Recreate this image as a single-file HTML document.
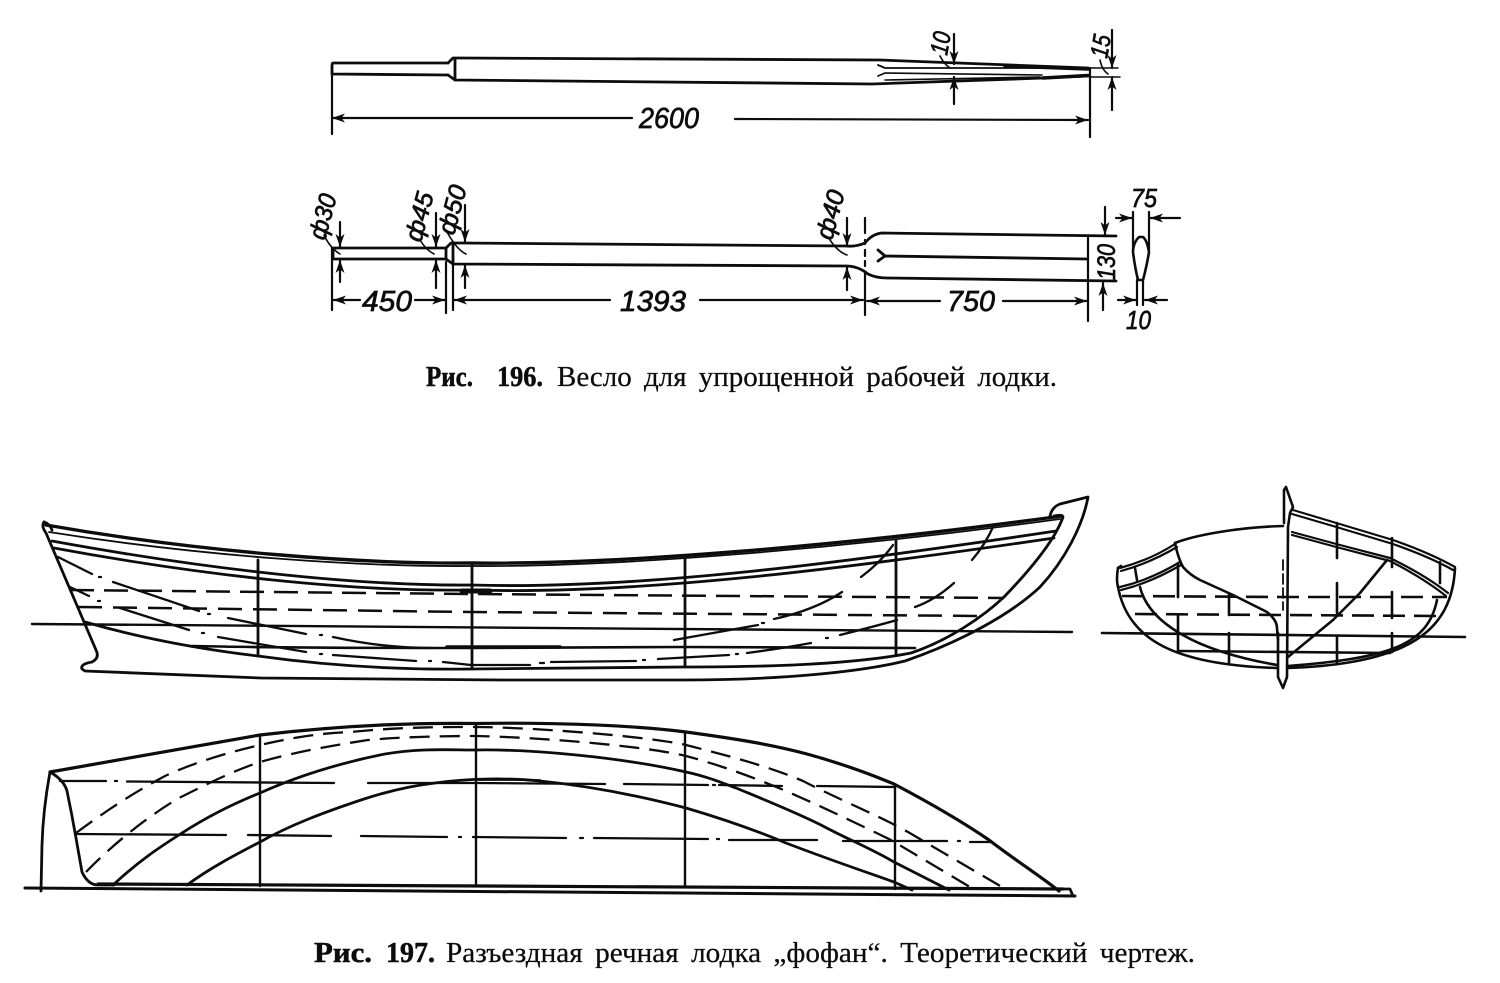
<!DOCTYPE html>
<html lang="ru"><head><meta charset="utf-8"><title>Рис. 196–197</title>
<style>
html,body{margin:0;padding:0;background:#fff}
svg{display:block}
.t{font:italic 29px "Liberation Sans",sans-serif;fill:#0c0c0c;stroke:#0c0c0c;stroke-width:.7}
.c{font:29px "Liberation Serif","Noto Serif CJK SC",serif;fill:#0c0c0c;stroke:#0c0c0c;stroke-width:.25}
.b{font-weight:bold;stroke-width:.5}
</style></head><body>
<svg width="1500" height="983" viewBox="0 0 1500 983" xmlns="http://www.w3.org/2000/svg">
<defs>
<marker id="a" markerUnits="userSpaceOnUse" markerWidth="15" markerHeight="12" refX="13" refY="6" orient="auto"><path d="M0 1.5L13 6L0 10.500L3.500 6Z" fill="#0c0c0c"/></marker>
</defs>
<rect width="1500" height="983" fill="#fff"/>

<!-- OAR 1 -->
<g fill="none" stroke="#0c0c0c" stroke-width="2.8" stroke-linecap="round" stroke-linejoin="round">
<path d="M448 63H333Q332 63 332 66V74L448 75"/>
<path d="M448 63L453 58H460L880 60L1088 68"/>
<path d="M448 75L455 80L872 84L1043 78L1088 76"/>
<path d="M455 60V80"/>
<path d="M878 65L885 68H1090" stroke-width="1.8"/>
<path d="M878 76L885 73L1042 75" stroke-width="1.6"/>
<path d="M885 80L1040 77" stroke-width="1.6"/>
<path d="M1005 66L1088 69" stroke-width="3.5"/>
<path d="M1043 78L1088 75.500" stroke-width="3.500"/>
<g stroke-width="2.2">
<path d="M332 66V134"/><path d="M1090 68V137"/>
<path d="M632 118H332" marker-end="url(#a)"/>
<path d="M735 119L1088 120" marker-end="url(#a)"/>
<path d="M954 34V64" marker-end="url(#a)"/><path d="M954 104V77" marker-end="url(#a)"/>
<path d="M1112 30V68" marker-end="url(#a)"/><path d="M1112 110V77" marker-end="url(#a)"/>
<path d="M1090 68H1118M1090 77H1120" stroke-width="1.5"/>
<path d="M940 56Q944 64 950 68M1100 60Q1102 70 1108 74" stroke-width="1.6"/>
</g>
</g>
<text class="t" transform="translate(639,128)" textLength="60" lengthAdjust="spacingAndGlyphs">2600</text>
<text class="t" transform="translate(947,56) rotate(-80)" style="font-size:25px" textLength="23" lengthAdjust="spacingAndGlyphs">10</text>
<text class="t" transform="translate(1107,59) rotate(-80)" style="font-size:25px" textLength="23" lengthAdjust="spacingAndGlyphs">15</text>

<!-- OAR 2 -->
<g fill="none" stroke="#0c0c0c" stroke-width="2.8" stroke-linecap="round" stroke-linejoin="round">
<path d="M446 248H333V259H446"/>
<path d="M446 248L451 243H460L846 246Q856 247 865 243Q872 234 882 233L1116 236"/>
<path d="M446 259L453 264L846 266Q858 266 868 274Q876 278 887 278L1116 281"/>
<path d="M453 245V264M446 248V259"/>
<path d="M878 250L885 256L878 261M885 256L1087 259"/>
<g stroke-width="2.2">
<path d="M332 248V310M446 262V313M453 264V310"/>
<path d="M865 218V233M865 240V244M865 250V256M865 261V266M865 272V315"/>
<path d="M1088 237V321"/>
<path d="M360 300H333" marker-end="url(#a)"/><path d="M415 300H445" marker-end="url(#a)"/>
<path d="M610 300H454" marker-end="url(#a)"/><path d="M700 300L863 300" marker-end="url(#a)"/>
<path d="M940 301H867" marker-end="url(#a)"/><path d="M1003 301H1087" marker-end="url(#a)"/>
<path d="M340 222V247" marker-end="url(#a)"/><path d="M340 282V260" marker-end="url(#a)"/>
<path d="M436 213V247" marker-end="url(#a)"/><path d="M436 288V260" marker-end="url(#a)"/>
<path d="M465 205V242" marker-end="url(#a)"/><path d="M465 288V265" marker-end="url(#a)"/>
<path d="M847 218V246" marker-end="url(#a)"/><path d="M847 290V267" marker-end="url(#a)"/>
<path d="M1105 207V235" marker-end="url(#a)"/><path d="M1103 310V283" marker-end="url(#a)"/>
<path d="M1116 218H1132" marker-end="url(#a)"/><path d="M1180 218H1150" marker-end="url(#a)"/>
<path d="M1118 300H1136" marker-end="url(#a)"/><path d="M1167 300H1145" marker-end="url(#a)"/>
<path d="M1133 212V250M1149 212V250M1137 280V305M1143 280V305"/>
<path d="M1139 237Q1133 243 1133 252Q1135 268 1138 280H1143Q1147 265 1149 252Q1147 240 1143 237Z" stroke-width="2.6"/>
<path d="M324 235Q330 248 340 254M420 240Q426 250 434 254M447 232Q457 250 466 254M830 240Q838 252 847 255" stroke-width="1.6"/>
</g>
</g>
<text class="t" transform="translate(362,311)" textLength="50" lengthAdjust="spacingAndGlyphs">450</text>
<text class="t" transform="translate(620,311)" textLength="66" lengthAdjust="spacingAndGlyphs">1393</text>
<text class="t" transform="translate(947,311)" textLength="48" lengthAdjust="spacingAndGlyphs">750</text>
<text class="t" transform="translate(1131,207)" style="font-size:26px" textLength="26" lengthAdjust="spacingAndGlyphs">75</text>
<text class="t" transform="translate(1126,329)" style="font-size:26px" textLength="25" lengthAdjust="spacingAndGlyphs">10</text>
<text class="t" transform="translate(1115,280) rotate(-90)" style="font-size:25px" textLength="36" lengthAdjust="spacingAndGlyphs">130</text>
<text class="t" transform="translate(325,241) rotate(-75)" style="font-size:25px" textLength="46" lengthAdjust="spacingAndGlyphs">ф30</text>
<text class="t" transform="translate(421,243) rotate(-75)" style="font-size:25px" textLength="50" lengthAdjust="spacingAndGlyphs">ф45</text>
<text class="t" transform="translate(454,236) rotate(-75)" style="font-size:25px" textLength="50" lengthAdjust="spacingAndGlyphs">ф50</text>
<text class="t" transform="translate(832,241) rotate(-75)" style="font-size:25px" textLength="50" lengthAdjust="spacingAndGlyphs">ф40</text>

<text class="c b" x="426" y="386" textLength="47" lengthAdjust="spacingAndGlyphs">Рис.</text>
<text class="c b" x="497" y="386" textLength="46" lengthAdjust="spacingAndGlyphs">196.</text>
<text class="c" x="557" y="386" textLength="500" lengthAdjust="spacingAndGlyphs" style="word-spacing:5px">Весло для упрощенной рабочей лодки.</text>

<!-- BOAT SIDE -->
<g fill="none" stroke="#0c0c0c" stroke-width="2.8" stroke-linecap="round" stroke-linejoin="round">
<path d="M46 525C200 552 360 564 471 563C620 565 850 545 1062 516" stroke-width="3.400"/>
<path d="M49 532C200 556 360 567 471 566C620 567 850 548 1060 519" stroke-width="1.8"/>
<path d="M52 541C200 568 350 586 471 585C640 590 850 562 1056 531"/>
<path d="M54 548C200 575 350 592 471 590C640 595 850 568 1054 538"/>
<path d="M44 522Q41 526 46 533L96 650Q100 658 92 662Q80 664 82 669L85 671L261 678L502 680L683 680C780 680 860 672 905 661C960 642 1010 615 1040 587C1065 560 1083 525 1088 497L1060 504Q1052 507 1050 516"/>
<path d="M44 522Q50 524 52 530"/>
<path d="M85 622C130 635 190 648 258 656C330 666 400 670 471 669L683 667C760 667 850 665 911 653C950 640 985 615 1004 597C1030 570 1055 540 1063 517Q1062 514 1054 516"/>
<path d="M258 560V656M472 565V669M685 558V667M896 540V654" stroke-width="2.800"/>
<path d="M70 590L471 594L1004 598" stroke-dasharray="24 10" stroke-width="2.500" stroke-linecap="butt"/>
<path d="M78 607L471 612L983 616" stroke-dasharray="24 11" stroke-width="2.500" stroke-linecap="butt"/>
<path d="M32 624L1072 632" stroke-width="2.400"/>
<path d="M192 646C280 648 380 648 471 648L683 647L915 648" stroke-width="2.600"/>
<path d="M447 647H560" stroke-width="3.600"/>
<path d="M462 591H490" stroke-width="5"/>
<g stroke-width="2.300">
<path d="M58 557L92 574M99 577h2M113 582L199 611M208 614h2M228 618L306 634M320 635h2M333 637C360 643 395 648 433 648"/>
<path d="M70 587L89 596M98 601h2M120 608L189 630M202 633h2M218 637L306 652M320 654h2M333 655L416 661M429 661h2M443 662L471 665H530M540 663h4M551 662L636 661M643 660h2M658 659L729 655M736 654h2M747 653C770 650 795 646 811 643M826 638h2M840 635C860 630 880 625 897 620"/>
<path d="M915 607Q935 600 954 583M972 560Q985 545 994 525M674 640L758 625M762 623h2M774 619Q815 610 842 592M861 577Q880 563 893 545"/>
</g>
</g>

<!-- BODY PLAN -->
<g fill="none" stroke="#0c0c0c" stroke-width="2.600" stroke-linecap="round" stroke-linejoin="round">
<path d="M1284 523L1284 490L1286 487L1293 507L1290 513L1288 527L1287 677L1283 688L1278 677V633"/>
<path d="M1283 560V610" stroke-width="1.8" stroke-dasharray="10 4"/>
<path d="M1118 568Q1116 580 1118 587C1128 640 1175 665 1277 668"/>
<path d="M1140 587C1148 620 1190 650 1277 665"/>
<path d="M1120 568Q1150 560 1175 544M1121 571Q1150 563 1177 547" stroke-width="2.200"/>
<path d="M1120 587Q1150 580 1180 562M1121 590Q1150 583 1181 565" stroke-width="2.200"/>
<path d="M1118 568L1121 566M1175 543C1195 535 1240 527 1283 526" />
<path d="M1175 543Q1178 558 1183 567Q1190 575 1200 580L1233 595L1267 612Q1277 620 1277 628L1278 640"/>
<path d="M1135 568L1137 580M1178 565V597M1178 615V652M1229 595V615M1229 633V663"/>
<path d="M1122 596L1280 597L1447 597" stroke-dasharray="22 9" stroke-linecap="butt"/>
<path d="M1135 614L1280 615L1437 616" stroke-dasharray="22 9" stroke-linecap="butt"/>
<path d="M1102 633L1465 637"/>
<path d="M1180 651L1390 653"/>
<path d="M1293 510L1333 522L1393 540Q1430 553 1455 567M1292 514L1333 526L1393 544Q1430 557 1453 570" stroke-width="2.200"/>
<path d="M1292 532L1340 545L1390 558Q1425 575 1448 593M1292 535L1340 548L1390 561Q1423 578 1446 596" stroke-width="2.200"/>
<path d="M1455 568C1452 630 1410 664 1288 668"/>
<path d="M1437 600C1428 645 1390 658 1288 666"/>
<path d="M1387 560L1360 593L1333 620L1288 657"/>
<path d="M1337 523V558M1337 583V613M1337 637V663M1392 538V567M1392 592V618M1392 633V652M1440 562V583"/>
</g>

<!-- HALF BREADTH -->
<g fill="none" stroke="#0c0c0c" stroke-width="2.800" stroke-linecap="round" stroke-linejoin="round">
<path d="M50 772L260 735Q370 722 476 723.5C560 722 640 726 686 732C730 738 770 744 807 754C840 763 870 774 894 784C930 803 960 820 989 840C1015 860 1040 876 1059 891" stroke-width="3.200"/>
<path d="M50 772Q43 810 42 845L41 891"/>
<path d="M50 772Q64 780 67 791Q72 815 76 838L82 872Q88 885 98 885H114"/>
<path d="M98 884L1063 889" stroke-width="3.200"/>
<path d="M25 888L1075 896" stroke-width="3"/>
<path d="M1063 889H1070L1073 896"/>
<path d="M113 885C140 860 160 847 182 833C210 815 235 803 260 793C280 784 320 767 385 754C420 748 450 750 476 750C530 749 620 757 686 772C705 776 720 782 736 788C765 800 795 812 821 825C845 838 870 848 894 862L949 890"/>
<path d="M187 885C210 868 235 855 260 842C290 825 325 812 361 800C385 792 410 786 435 783C470 778 510 778 540 781C590 786 640 796 686 808C720 818 755 830 786 843C825 858 860 870 894 882L912 890"/>
<path d="M76 833C110 808 135 792 165 776C195 762 230 752 260 745C290 738 320 733 351 732C400 727 440 727 476 727C520 727 640 735 686 745C725 755 765 765 803 781C830 795 865 810 891 823L908 832L1007 890" stroke-dasharray="20 10" stroke-width="2.300" stroke-linecap="butt"/>
<path d="M86 872C115 842 150 815 179 798C205 785 235 770 260 762C295 752 335 745 368 740C400 737 440 736 476 736C530 737 640 745 686 756C720 765 755 778 786 791C825 808 860 825 891 840L975 890" stroke-dasharray="20 10" stroke-width="2.300" stroke-linecap="butt"/>
<g stroke-width="2.300">
<path d="M60 781H106M115 781h2M127 781.500L334 783M368 783H470L476 783L605 784M624 784L708 785M713 785h2M719 785L782 786M817 786L894 787"/>
<path d="M77 834L226 835M248 835L331 836M361 836L447 837M459 837h2M473 837L566 838M580 838h3M594 838L708 839M717 839h2M729 840L817 840M843 841L947 841M958 841h2M970 842L992 842"/>
</g>
<path d="M260 735V886M476 724V886M685 732V887M895 785V889" stroke-width="2.400"/>
<path d="M476 780H540" stroke-width="1.800"/>
</g>

<text class="c b" x="314" y="962" textLength="58" lengthAdjust="spacingAndGlyphs">Рис.</text>
<text class="c b" x="386" y="962" textLength="49" lengthAdjust="spacingAndGlyphs">197.</text>
<text class="c" x="446" y="962" textLength="749" lengthAdjust="spacingAndGlyphs" style="word-spacing:5px">Разъездная речная лодка „фофан“. Теоретический чертеж.</text>
</svg>
</body></html>
